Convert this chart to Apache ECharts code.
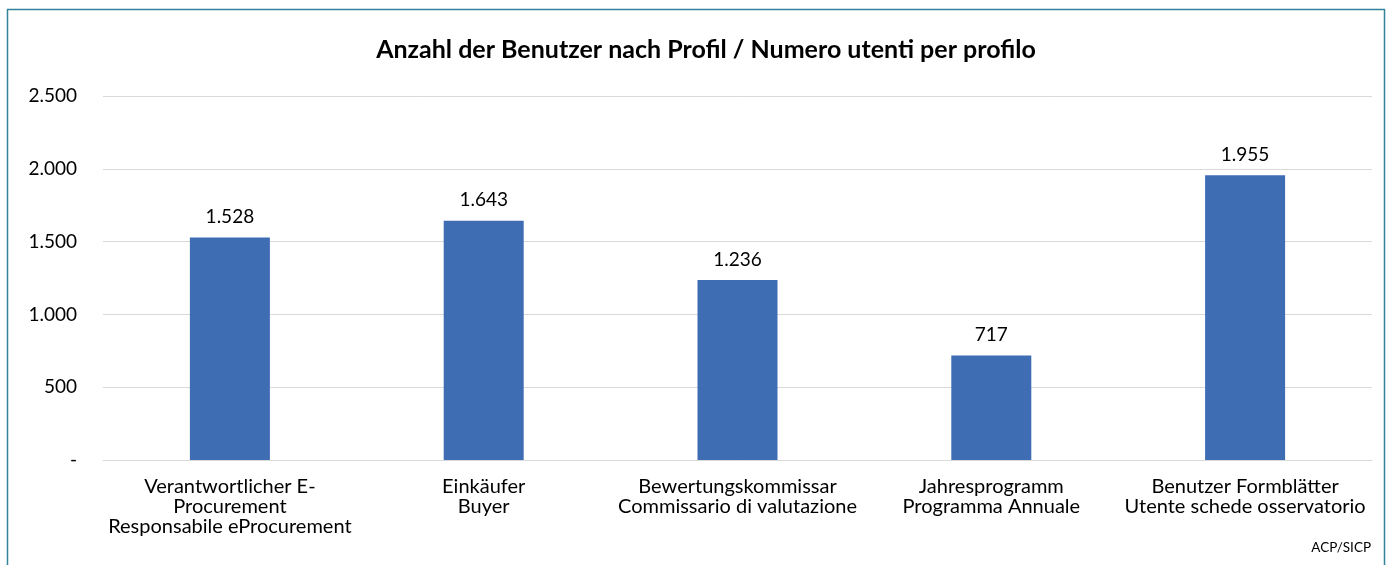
<!DOCTYPE html>
<html>
<head>
<meta charset="utf-8">
<script src="https://cdn.jsdelivr.net/npm/echarts@6/dist/echarts.min.js"></script>
<style>
  html, body { margin: 0; padding: 0; background: #fff; }
  #chart { width: 1387px; height: 565px; }
</style>
</head>
<body>
<div id="chart"></div>
<script>
const categories = [
  'Verantwortlicher E-\nProcurement\nResponsabile eProcurement',
  'Einkäufer\nBuyer',
  'Bewertungskommissar\nCommissario di valutazione',
  'Jahresprogramm\nProgramma Annuale',
  'Benutzer Formblätter\nUtente schede osservatorio'
]
const users = [1528, 1643, 1236, 717, 1955]
const yTicks = { min: 0, max: 2500, interval: 500 }

const font = 'Lato, "Open Sans", sans-serif'

function fmt(v) {
  if (v === 0) return '-'
  return String(v).replace(/\B(?=(\d{3})+(?!\d))/g, '.')
}

const chart = echarts.init(document.getElementById('chart'))

chart.setOption({
  animation: false,
  title: {
    text: 'Anzahl der Benutzer nach Profil / Numero utenti per profilo',
    left: 701,
    top: 32,
    textAlign: 'center',
    textStyle: { fontFamily: font, fontSize: 25, fontWeight: 'bold', color: '#000' }
  },
  grid: { left: 103, right: 15, top: 96, bottom: 105 },
  xAxis: {
    type: 'category',
    data: categories,
    axisTick: { show: false },
    axisLine: { lineStyle: { color: '#d9d9d9', width: 1 } },
    axisLabel: {
      interval: 0,
      margin: 17,
      color: '#000',
      fontFamily: font,
      fontSize: 20,
      lineHeight: 20
    }
  },
  yAxis: {
    type: 'value',
    min: yTicks.min,
    max: yTicks.max,
    interval: yTicks.interval,
    axisLine: { show: false },
    axisTick: { show: false },
    splitLine: { lineStyle: { color: '#d9d9d9', width: 1 } },
    axisLabel: {
      margin: 26,
      color: '#000',
      fontFamily: font,
      fontSize: 19,
      formatter: fmt
    }
  },
  series: [{
    type: 'bar',
    data: users,
    barWidth: 80,
    itemStyle: { color: '#3e6db4' },
    label: {
      show: true,
      position: 'top',
      distance: 11,
      color: '#000',
      fontFamily: font,
      fontSize: 19,
      formatter: p => fmt(p.value)
    }
  }],
  graphic: [
    {
      type: 'rect',
      shape: { x: 7.5, y: 9.5, width: 1377, height: 600 },
      style: { fill: 'none', stroke: '#31849b', lineWidth: 1.5 },
      silent: true
    },
    {
      type: 'text',
      right: 16,
      top: 541,
      style: { text: 'ACP/SICP', fill: '#000', font: '13.5px ' + font }
    }
  ]
})
</script>
</body>
</html>
